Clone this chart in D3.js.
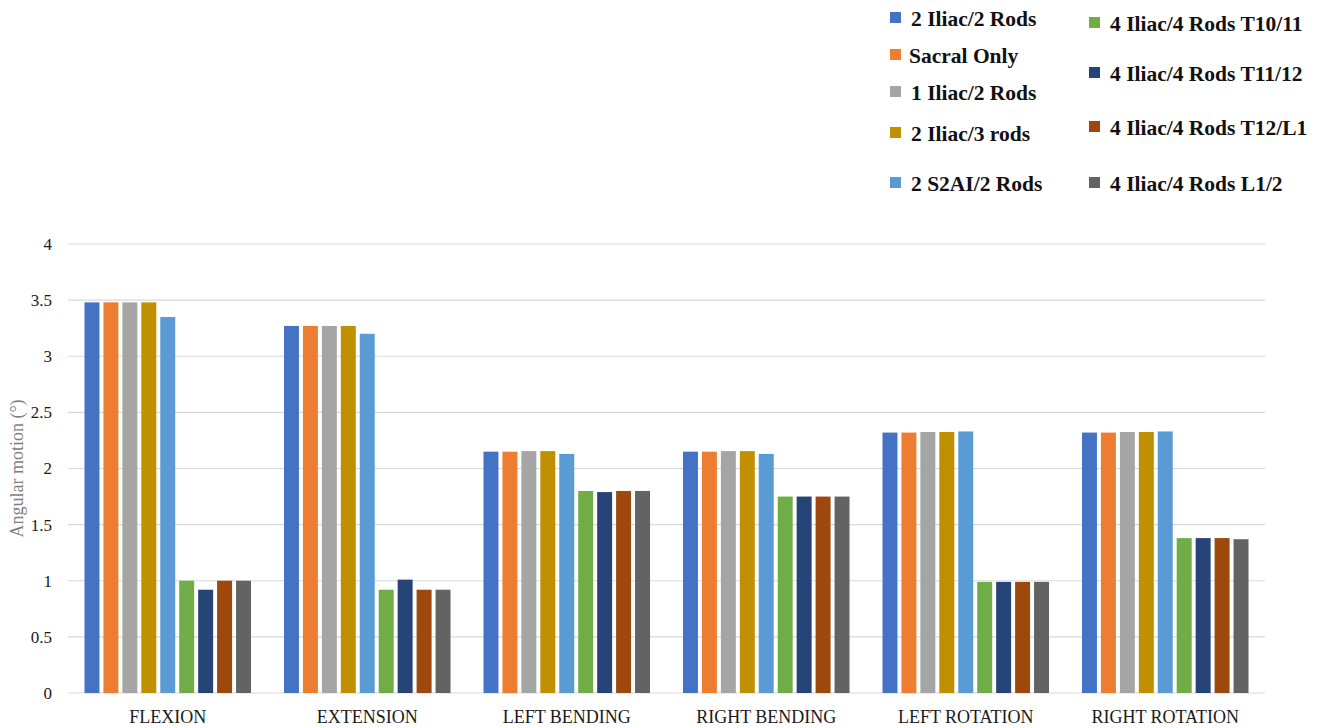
<!DOCTYPE html>
<html>
<head>
<meta charset="utf-8">
<script src="https://cdn.jsdelivr.net/npm/d3@7"></script>
<style>
  html, body { margin: 0; padding: 0; background: #fff; }
  svg { display: block; }
</style>
</head>
<body>
<svg id="chart" width="1322" height="728"></svg>
<script>
// Motion categories along the x axis
const categories = ["FLEXION", "EXTENSION", "LEFT BENDING", "RIGHT BENDING", "LEFT ROTATION", "RIGHT ROTATION"];

// Construct names, one bar per construct in each category
const seriesNames = [
  "2 Iliac/2 Rods", "Sacral Only", "1 Iliac/2 Rods", "2 Iliac/3 rods", "2 S2AI/2 Rods",
  "4 Iliac/4 Rods T10/11", "4 Iliac/4 Rods T11/12", "4 Iliac/4 Rods T12/L1", "4 Iliac/4 Rods L1/2"
];

// Angular motion (°), one value per category for each construct
const s2Iliac2Rods   = [3.48, 3.27, 2.15, 2.15, 2.32, 2.32];
const sSacralOnly    = [3.48, 3.27, 2.15, 2.15, 2.32, 2.32];
const s1Iliac2Rods   = [3.48, 3.27, 2.155, 2.155, 2.325, 2.325];
const s2Iliac3Rods   = [3.48, 3.27, 2.155, 2.155, 2.325, 2.325];
const s2S2AI2Rods    = [3.35, 3.20, 2.13, 2.13, 2.33, 2.33];
const s4IliacT10_11  = [1.00, 0.92, 1.80, 1.75, 0.99, 1.38];
const s4IliacT11_12  = [0.92, 1.01, 1.79, 1.75, 0.99, 1.38];
const s4IliacT12_L1  = [1.00, 0.92, 1.80, 1.75, 0.99, 1.38];
const s4IliacL1_2    = [1.00, 0.92, 1.80, 1.75, 0.99, 1.37];

const seriesValues = [
  s2Iliac2Rods, sSacralOnly, s1Iliac2Rods, s2Iliac3Rods, s2S2AI2Rods,
  s4IliacT10_11, s4IliacT11_12, s4IliacT12_L1, s4IliacL1_2
];

const seriesColors = [
  "#4472C4", "#ED7D31", "#A5A5A5", "#C09000", "#5B9BD5",
  "#70AD47", "#264478", "#9E480E", "#636363"
];

const yTicks = [0, 0.5, 1, 1.5, 2, 2.5, 3, 3.5, 4];
const yTickLabels = ["0", "0.5", "1", "1.5", "2", "2.5", "3", "3.5", "4"];

const svg = d3.select("#chart");
const serif = "'Liberation Serif', 'Times New Roman', serif";

const plot = { left: 68, right: 1265, top: 244, bottom: 693 };

const x0 = d3.scaleBand().domain(categories).range([plot.left, plot.right]).padding(0);
const x1 = d3.scaleBand().domain(d3.range(seriesNames.length))
  .range([0, x0.bandwidth()]).paddingInner(0.21).paddingOuter(0.87);
const y = d3.scaleLinear().domain([0, 4]).range([plot.bottom, plot.top]);

// Horizontal gridlines
svg.append("g")
  .selectAll("line")
  .data(yTicks)
  .join("line")
  .attr("x1", plot.left).attr("x2", plot.right)
  .attr("y1", d => y(d)).attr("y2", d => y(d))
  .attr("stroke", "#d9d9d9").attr("stroke-width", 1.2);

// Y axis tick labels
const yAxis = d3.axisLeft(y).tickValues(yTicks)
  .tickFormat((d, i) => yTickLabels[i]).tickSize(0).tickPadding(16);
svg.append("g")
  .attr("transform", `translate(${plot.left},0)`)
  .call(yAxis)
  .call(g => g.select(".domain").remove())
  .call(g => g.selectAll("text")
    .attr("font-family", serif).attr("font-size", 17).attr("fill", "#1a1a1a"));

// Y axis title
svg.append("text")
  .attr("transform", `translate(23,${(plot.top + plot.bottom) / 2}) rotate(-90)`)
  .attr("text-anchor", "middle")
  .attr("font-family", serif).attr("font-size", 18).attr("fill", "#7f7f7f")
  .text("Angular motion (°)");

// Bars
const groups = svg.append("g")
  .selectAll("g")
  .data(categories)
  .join("g")
  .attr("transform", d => `translate(${x0(d)},0)`);

groups.selectAll("rect")
  .data((c, ci) => seriesValues.map((vals, si) => ({ si, v: vals[ci] })))
  .join("rect")
  .attr("x", d => x1(d.si))
  .attr("width", x1.bandwidth())
  .attr("y", d => y(d.v))
  .attr("height", d => y(0) - y(d.v))
  .attr("fill", d => seriesColors[d.si]);

// X axis category labels
const xAxis = d3.axisBottom(x0).tickSize(0).tickPadding(17);
svg.append("g")
  .attr("transform", `translate(0,${plot.bottom})`)
  .call(xAxis)
  .call(g => g.select(".domain").remove())
  .call(g => g.selectAll("text")
    .attr("font-family", serif).attr("font-size", 18).attr("fill", "#1a1a1a"));

// Legend in two columns
const legendItems = [
  { i: 0, x: 890, y: 18 },
  { i: 1, x: 890, y: 55 },
  { i: 2, x: 890, y: 92 },
  { i: 3, x: 890, y: 133 },
  { i: 4, x: 890, y: 183 },
  { i: 5, x: 1089, y: 23 },
  { i: 6, x: 1089, y: 73 },
  { i: 7, x: 1089, y: 127 },
  { i: 8, x: 1089, y: 183 }
];

const legend = svg.append("g")
  .selectAll("g")
  .data(legendItems)
  .join("g")
  .attr("transform", d => `translate(${d.x},${d.y})`);

legend.append("rect")
  .attr("x", 0).attr("y", -6).attr("width", 11).attr("height", 11)
  .attr("fill", d => seriesColors[d.i]);

legend.append("text")
  .attr("x", d => d.i === 1 ? 19 : 21).attr("y", 0)
  .attr("dy", "0.35em")
  .attr("font-family", serif).attr("font-weight", "bold").attr("font-size", 21.5)
  .attr("fill", "#111")
  .text(d => seriesNames[d.i]);
</script>
</body>
</html>
